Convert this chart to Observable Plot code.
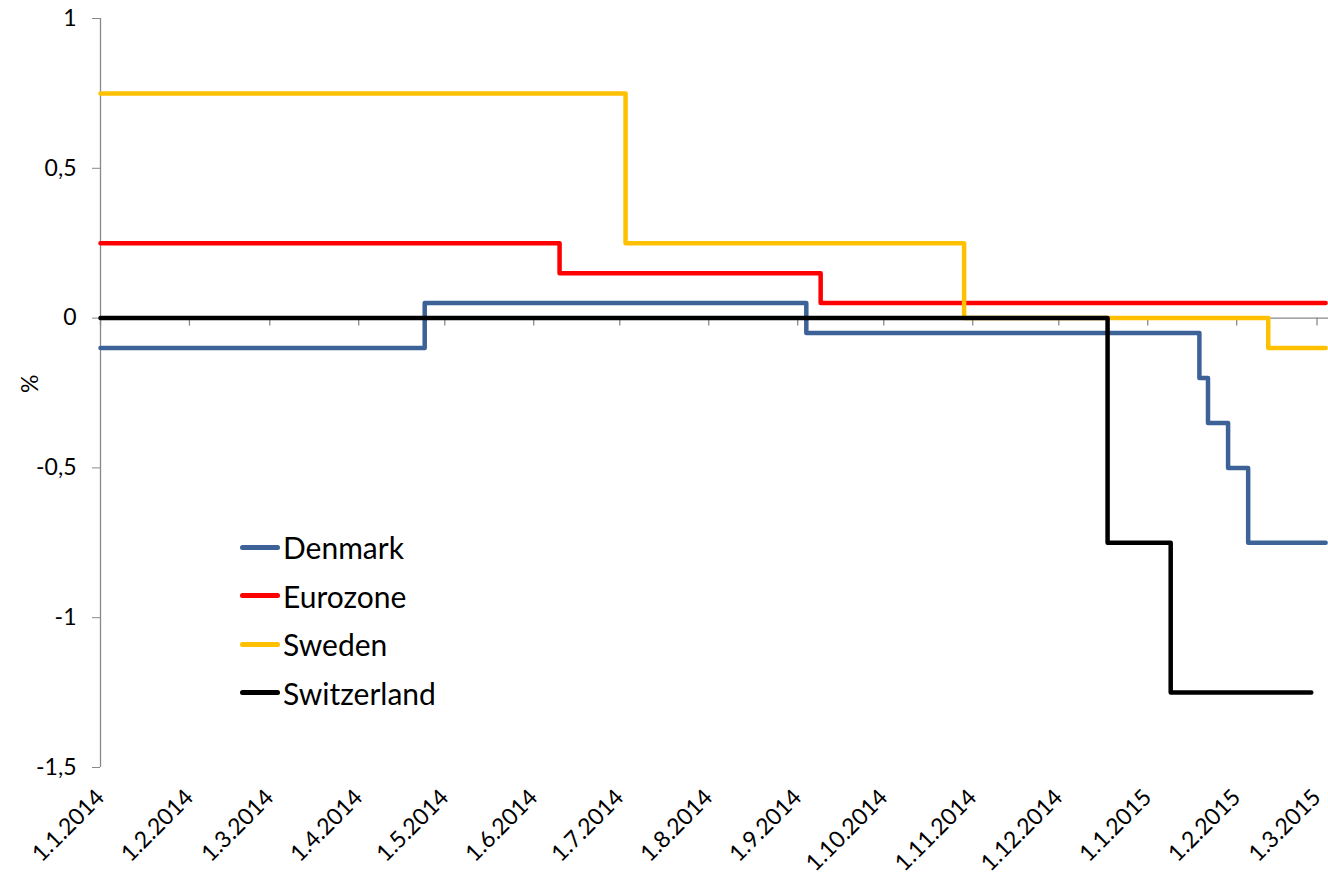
<!DOCTYPE html>
<html><head><meta charset="utf-8">
<script src="https://cdn.jsdelivr.net/npm/d3@7"></script>
<script src="https://cdn.jsdelivr.net/npm/@observablehq/plot@0.6"></script>
<style>
body{margin:0;background:#fff;}
#chart{position:relative;width:1328px;height:875px;}
.legend{position:absolute;left:240px;top:523px;font-family:Lato, "Open Sans", sans-serif;font-size:30px;color:#000;}
.legend .row{display:flex;align-items:center;height:48.5px;}
.legend .sw{width:40px;height:5px;border-radius:3px;margin-right:3px;}
</style></head><body><div id="chart"></div>
<script>
const seriesNames = ["Denmark", "Eurozone", "Sweden", "Switzerland"];
const seriesColors = ["#3C6298", "#FF0000", "#FFC000", "#000000"];

const denmarkDates = ["2014-01-01","2014-04-24","2014-09-04","2015-01-19","2015-01-22","2015-01-29","2015-02-05","2015-03-04"];
const denmarkRates = [-0.10, 0.05, -0.05, -0.20, -0.35, -0.50, -0.75, -0.75];

const eurozoneDates = ["2014-01-01","2014-06-10","2014-09-09","2015-03-04"];
const eurozoneRates = [0.25, 0.15, 0.05, 0.05];

const swedenDates = ["2014-01-01","2014-07-03","2014-10-29","2015-02-12","2015-03-04"];
const swedenRates = [0.75, 0.25, 0.00, -0.10, -0.10];

const switzerlandDates = ["2014-01-01","2014-12-18","2015-01-09","2015-02-27"];
const switzerlandRates = [0.00, -0.75, -1.25, -1.25];

const monthTicks = ["2014-01-01","2014-02-01","2014-03-01","2014-04-01","2014-05-01","2014-06-01","2014-07-01","2014-08-01","2014-09-01","2014-10-01","2014-11-01","2014-12-01","2015-01-01","2015-02-01","2015-03-01"];
const yTicks = [-1.5, -1, -0.5, 0, 0.5, 1];
const xDomain = ["2014-01-01", "2015-03-05"];
const yDomain = [-1.5, 1];

const seriesDates = [denmarkDates, eurozoneDates, swedenDates, switzerlandDates];
const seriesRates = [denmarkRates, eurozoneRates, swedenRates, switzerlandRates];
const rows = [];
seriesNames.forEach((name, k) => {
  seriesDates[k].forEach((d, i) => rows.push({series: name, date: new Date(d), rate: seriesRates[k][i]}));
});
const ticks = monthTicks.map(d => new Date(d));
const fmtDate = d => `${d.getUTCDate()}.${d.getUTCMonth() + 1}.${d.getUTCFullYear()}`;
const fmtNum = v => String(v).replace(".", ",");
const gray = "#898989";

const plot = Plot.plot({
  width: 1328,
  height: 875,
  marginLeft: 100,
  marginRight: 0,
  marginTop: 18,
  marginBottom: 108,
  style: {fontFamily: "Lato, 'Open Sans', sans-serif", fontSize: "23px", color: "#000", background: "#fff", overflow: "visible"},
  x: {type: "utc", domain: xDomain.map(d => new Date(d))},
  y: {domain: yDomain},
  color: {domain: seriesNames, range: seriesColors},
  marks: [
    Plot.ruleX([new Date(xDomain[0])], {stroke: gray, strokeWidth: 1.3}),
    Plot.ruleY([0], {stroke: gray, strokeWidth: 1.3}),
    Plot.ruleX(ticks, {x: d => d, y1: () => 0, y2: () => 0, insetBottom: -8, stroke: gray, strokeWidth: 1.3}),
    Plot.axisY(yTicks, {tickSize: 8, tickPadding: 16, tickFormat: fmtNum, stroke: gray, label: null, fontSize: 23}),
    Plot.axisX(ticks, {tickSize: 0, tickPadding: 26, tickRotate: -45, tickFormat: fmtDate, label: null, fontSize: 23}),
    Plot.text(["%"], {text: d => d, frameAnchor: "left", dx: -70, rotate: -90, fontSize: 23}),
    Plot.line(rows, {x: "date", y: "rate", z: "series", stroke: "series", strokeWidth: 4.5, curve: "step-after"})
  ]
});
const chart = document.getElementById("chart");
chart.appendChild(plot);

const legend = document.createElement("div");
legend.className = "legend";
seriesNames.forEach((name, k) => {
  const row = document.createElement("div");
  row.className = "row";
  const sw = document.createElement("span");
  sw.className = "sw";
  sw.style.background = seriesColors[k];
  const label = document.createElement("span");
  label.textContent = name;
  row.appendChild(sw);
  row.appendChild(label);
  legend.appendChild(row);
});
chart.appendChild(legend);
</script>
</body></html>
